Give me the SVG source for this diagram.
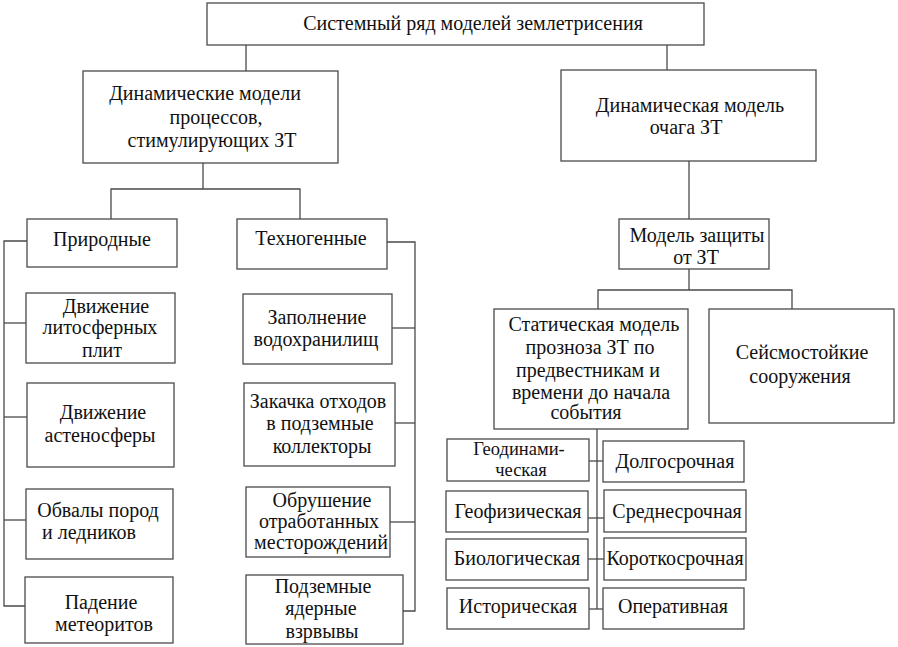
<svg xmlns="http://www.w3.org/2000/svg" width="898" height="647" viewBox="0 0 898 647">
<style>
.box{fill:#fff;stroke:#4a4a4a;stroke-width:1.3}
.c line,.c polyline{fill:none;stroke:#4a4a4a;stroke-width:1.3}
</style>
<rect x="0" y="0" width="898" height="647" fill="#fff"/>
<g class="c" id="connectors">
<line x1="246" y1="45" x2="246" y2="71"/>
<line x1="667" y1="45" x2="667" y2="70"/>
<line x1="203" y1="163" x2="203" y2="189"/>
<polyline points="111,219 111,189 300,189 300,219"/>
<line x1="689" y1="161" x2="689" y2="219"/>
<line x1="689" y1="269" x2="689" y2="290"/>
<polyline points="598,309 598,290 792,290 792,309"/>
<polyline points="27,241 4,241 4,606 25,606"/>
<line x1="4" y1="323" x2="26" y2="323"/>
<line x1="4" y1="417" x2="27" y2="417"/>
<line x1="4" y1="520" x2="26" y2="520"/>
<polyline points="387,242 415,242 415,611 403,611"/>
<line x1="392" y1="328" x2="415" y2="328"/>
<line x1="395" y1="423" x2="415" y2="423"/>
<line x1="390" y1="522" x2="415" y2="522"/>
<line x1="597" y1="420" x2="597" y2="609"/>
<line x1="589" y1="461" x2="603" y2="461"/>
<line x1="588" y1="518" x2="604" y2="518"/>
<line x1="588" y1="559" x2="604" y2="559"/>
<line x1="589" y1="609" x2="603" y2="609"/>
</g>
<g id="root"><rect class="box" x="207" y="3" width="497" height="42"/><text font-family="Liberation Serif" font-size="20" fill="#111" text-anchor="middle" x="473" y="30">Системный ряд моделей землетрисения</text></g>
<g id="dyn-proc"><rect class="box" x="83" y="71" width="255" height="92"/><text font-family="Liberation Serif" font-size="20" fill="#111" text-anchor="middle" x="205" y="100">Динамические модели</text><text font-family="Liberation Serif" font-size="20" fill="#111" text-anchor="middle" x="216" y="124">процессов,</text><text font-family="Liberation Serif" font-size="20" fill="#111" text-anchor="middle" x="212" y="147">стимулирующих ЗТ</text></g>
<g id="dyn-focus"><rect class="box" x="561" y="70" width="255" height="91"/><text font-family="Liberation Serif" font-size="20" fill="#111" text-anchor="middle" x="690" y="112">Динамическая модель</text><text font-family="Liberation Serif" font-size="20" fill="#111" text-anchor="middle" x="686" y="134">очага ЗТ</text></g>
<g id="natural"><rect class="box" x="27" y="219" width="150" height="48"/><text font-family="Liberation Serif" font-size="20" fill="#111" text-anchor="middle" x="102" y="246">Природные</text></g>
<g id="techno"><rect class="box" x="237" y="219" width="150" height="50"/><text font-family="Liberation Serif" font-size="20" fill="#111" text-anchor="middle" x="311" y="245">Техногенные</text></g>
<g id="protect"><rect class="box" x="619" y="219" width="150" height="50"/><text font-family="Liberation Serif" font-size="20" fill="#111" text-anchor="middle" x="697" y="242">Модель защиты</text><text font-family="Liberation Serif" font-size="20" fill="#111" text-anchor="middle" x="696" y="264">от ЗТ</text></g>
<g id="n1"><rect class="box" x="26" y="293" width="149" height="70"/><text font-family="Liberation Serif" font-size="20" fill="#111" text-anchor="middle" x="106" y="313">Движение</text><text font-family="Liberation Serif" font-size="20" fill="#111" text-anchor="middle" x="100" y="334">литосферных</text><text font-family="Liberation Serif" font-size="20" fill="#111" text-anchor="middle" x="102" y="357">плит</text></g>
<g id="n2"><rect class="box" x="27" y="383" width="147" height="84"/><text font-family="Liberation Serif" font-size="20" fill="#111" text-anchor="middle" x="103" y="419">Движение</text><text font-family="Liberation Serif" font-size="20" fill="#111" text-anchor="middle" x="100" y="442">астеносферы</text></g>
<g id="n3"><rect class="box" x="26" y="489" width="147" height="70"/><text font-family="Liberation Serif" font-size="20" fill="#111" text-anchor="middle" x="98" y="517">Обвалы пород</text><text font-family="Liberation Serif" font-size="20" fill="#111" text-anchor="middle" x="89" y="539">и ледников</text></g>
<g id="n4"><rect class="box" x="25" y="577" width="148" height="66"/><text font-family="Liberation Serif" font-size="20" fill="#111" text-anchor="middle" x="101" y="609">Падение</text><text font-family="Liberation Serif" font-size="20" fill="#111" text-anchor="middle" x="104" y="631">метеоритов</text></g>
<g id="t1"><rect class="box" x="243" y="294" width="149" height="70"/><text font-family="Liberation Serif" font-size="20" fill="#111" text-anchor="middle" x="317" y="324">Заполнение</text><text font-family="Liberation Serif" font-size="20" fill="#111" text-anchor="middle" x="316" y="346">водохранилищ</text></g>
<g id="t2"><rect class="box" x="244" y="383" width="151" height="83"/><text font-family="Liberation Serif" font-size="20" fill="#111" text-anchor="middle" x="318" y="408">Закачка отходов</text><text font-family="Liberation Serif" font-size="20" fill="#111" text-anchor="middle" x="320" y="430">в подземные</text><text font-family="Liberation Serif" font-size="20" fill="#111" text-anchor="middle" x="322" y="453">коллекторы</text></g>
<g id="t3"><rect class="box" x="246" y="487" width="144" height="70"/><text font-family="Liberation Serif" font-size="20" fill="#111" text-anchor="middle" x="322" y="507">Обрушение</text><text font-family="Liberation Serif" font-size="20" fill="#111" text-anchor="middle" x="319" y="528">отработанных</text><text font-family="Liberation Serif" font-size="20" fill="#111" text-anchor="middle" x="321" y="549">месторождений</text></g>
<g id="t4"><rect class="box" x="246" y="575" width="157" height="69"/><text font-family="Liberation Serif" font-size="20" fill="#111" text-anchor="middle" x="323" y="593">Подземные</text><text font-family="Liberation Serif" font-size="20" fill="#111" text-anchor="middle" x="321" y="615">ядерные</text><text font-family="Liberation Serif" font-size="20" fill="#111" text-anchor="middle" x="322" y="638">взрвывы</text></g>
<g id="static"><rect class="box" x="494" y="309" width="194" height="120"/><text font-family="Liberation Serif" font-size="20" fill="#111" text-anchor="middle" x="594" y="331">Статическая модель</text><text font-family="Liberation Serif" font-size="20" fill="#111" text-anchor="middle" x="590" y="354">прозноза ЗТ по</text><text font-family="Liberation Serif" font-size="20" fill="#111" text-anchor="middle" x="588" y="377">предвестникам и</text><text font-family="Liberation Serif" font-size="20" fill="#111" text-anchor="middle" x="591" y="399">времени до начала</text><text font-family="Liberation Serif" font-size="20" fill="#111" text-anchor="middle" x="586" y="419">события</text></g>
<g id="seismic"><rect class="box" x="709" y="309" width="185" height="114"/><text font-family="Liberation Serif" font-size="20" fill="#111" text-anchor="middle" x="802" y="359">Сейсмостойкие</text><text font-family="Liberation Serif" font-size="20" fill="#111" text-anchor="middle" x="800" y="383">сооружения</text></g>
<g id="b1"><rect class="box" x="447" y="439" width="142" height="42"/><text font-family="Liberation Serif" font-size="18.5" fill="#111" text-anchor="middle" x="519" y="455">Геодинами-</text><text font-family="Liberation Serif" font-size="18.5" fill="#111" text-anchor="middle" x="521" y="476">ческая</text></g>
<g id="b2"><rect class="box" x="446" y="491" width="142" height="41"/><text font-family="Liberation Serif" font-size="20" fill="#111" text-anchor="middle" x="518" y="518">Геофизическая</text></g>
<g id="b3"><rect class="box" x="446" y="539" width="142" height="41"/><text font-family="Liberation Serif" font-size="20" fill="#111" text-anchor="middle" x="517" y="565">Биологическая</text></g>
<g id="b4"><rect class="box" x="447" y="588" width="142" height="41"/><text font-family="Liberation Serif" font-size="20" fill="#111" text-anchor="middle" x="518" y="613">Историческая</text></g>
<g id="r1"><rect class="box" x="603" y="441" width="141" height="41"/><text font-family="Liberation Serif" font-size="20" fill="#111" text-anchor="middle" x="675" y="468">Долгосрочная</text></g>
<g id="r2"><rect class="box" x="604" y="490" width="142" height="42"/><text font-family="Liberation Serif" font-size="20" fill="#111" text-anchor="middle" x="677" y="518">Среднесрочная</text></g>
<g id="r3"><rect class="box" x="604" y="538" width="142" height="42"/><text font-family="Liberation Serif" font-size="20" fill="#111" text-anchor="middle" x="675" y="565">Короткосрочная</text></g>
<g id="r4"><rect class="box" x="603" y="588" width="141" height="41"/><text font-family="Liberation Serif" font-size="20" fill="#111" text-anchor="middle" x="673" y="613">Оперативная</text></g>
</svg>
